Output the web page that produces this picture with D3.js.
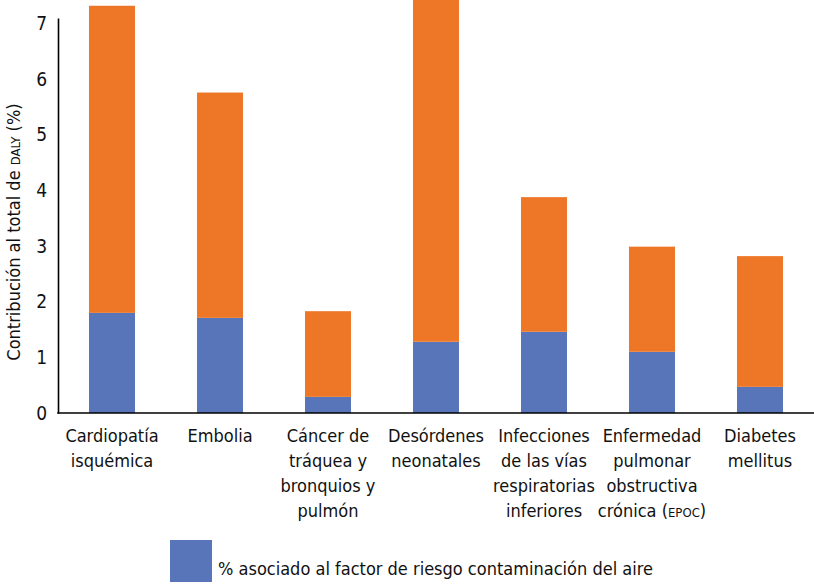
<!DOCTYPE html>
<html>
<head>
<meta charset="utf-8">
<script src="https://cdn.jsdelivr.net/npm/d3@7"></script>
<style>
  body { margin: 0; background: #fff; }
  svg text { font-family: "Liberation Sans Narrow", "DejaVu Sans Condensed", sans-serif; fill: #111; }
</style>
</head>
<body>
<svg width="814" height="585"></svg>
<script>
'use strict';

// categories, one array of lines per label
let categories = ["Cardiopatía isquémica", "Embolia", "Cáncer de tráquea y bronquios y pulmón",
    "Desórdenes neonatales", "Infecciones de las vías respiratorias inferiores",
    "Enfermedad pulmonar obstructiva crónica (EPOC)", "Diabetes mellitus"];
let labelLines = [
    ["Cardiopatía", "isquémica"],
    ["Embolia"],
    ["Cáncer de", "tráquea y", "bronquios y", "pulmón"],
    ["Desórdenes", "neonatales"],
    ["Infecciones", "de las vías", "respiratorias", "inferiores"],
    ["Enfermedad", "pulmonar", "obstructiva", "crónica (EPOC)"],
    ["Diabetes", "mellitus"]
];
// % asociado al factor de riesgo contaminación del aire
let airValues = [1.80, 1.71, 0.29, 1.28, 1.46, 1.10, 0.47];
// resto de la contribución
let restValues = [5.52, 4.05, 1.54, 6.22, 2.42, 1.89, 2.35];
let yTicks = [0, 1, 2, 3, 4, 5, 6, 7];

let svg = d3.select("svg");
let left = 58, right = 814, base = 413;

let x = d3.scaleBand().domain(categories).range([left, right]).paddingInner(0.574).paddingOuter(0.287);
let y = d3.scaleLinear().domain([0, 7.1]).range([base, 18]);

let data = categories.map(function (c, i) {
    return {cat: c, air: airValues[i], rest: restValues[i]};
});
let series = d3.stack().keys(["air", "rest"])(data);
let colors = {air: "#5875B9", rest: "#ED7727"};

svg.append("g").selectAll("g")
    .data(series).enter()
    .append("g")
    .attr("fill", function (d) { return colors[d.key]; })
    .selectAll("rect")
    .data(function (d) { return d; }).enter()
    .append("rect")
    .attr("x", function (d) { return x(d.data.cat); })
    .attr("width", x.bandwidth())
    .attr("y", function (d) { return y(d[1]); })
    .attr("height", function (d) { return y(d[0]) - y(d[1]); });

// y axis
let yAxis = svg.append("g")
    .attr("transform", "translate(" + left + ",0)")
    .call(d3.axisLeft(y).tickValues(yTicks).tickSize(0).tickPadding(11).tickFormat(d3.format("d")));
yAxis.select(".domain").attr("stroke", "#000").attr("stroke-width", 1.6);
yAxis.selectAll("text").style("font-size", "19px")
    .style("font-family", "'Liberation Sans Narrow', 'DejaVu Sans Condensed', sans-serif")
    .attr("fill", "#111");

// x axis line
let xAxis = svg.append("g")
    .attr("transform", "translate(0," + base + ")")
    .call(d3.axisBottom(x).tickSize(0).tickFormat(""));
xAxis.select(".domain").attr("stroke", "#000").attr("stroke-width", 1.6)
    .attr("d", "M" + (left - 0.8) + ",0H" + right);

// category labels
svg.append("g").selectAll("text")
    .data(categories).enter()
    .append("text")
    .attr("text-anchor", "middle")
    .style("font-size", "18px")
    .each(function (c, i) {
        let t = d3.select(this);
        let cx = x(c) + x.bandwidth() / 2;
        labelLines[i].forEach(function (line, j) {
            let span = t.append("tspan").attr("x", cx).attr("y", 442 + j * 25);
            if (line.indexOf("(EPOC)") >= 0) {
                span.text(line.replace("(EPOC)", "("));
                span.append("tspan").style("font-size", "13px").text("EPOC");
                span.append("tspan").text(")");
            } else {
                span.text(line);
            }
        });
    });

// y axis title
let title = svg.append("text")
    .attr("transform", "translate(20,232) rotate(-90)")
    .attr("text-anchor", "middle")
    .style("font-size", "18px");
title.append("tspan").text("Contribución al total de ");
title.append("tspan").style("font-size", "13px").text("DALY");
title.append("tspan").text(" (%)");

// legend
svg.append("rect")
    .attr("x", 170).attr("y", 540)
    .attr("width", 42).attr("height", 42)
    .attr("fill", colors.air);
svg.append("text")
    .attr("x", 218).attr("y", 575)
    .style("font-size", "18px")
    .text("% asociado al factor de riesgo contaminación del aire");
</script>
</body>
</html>
